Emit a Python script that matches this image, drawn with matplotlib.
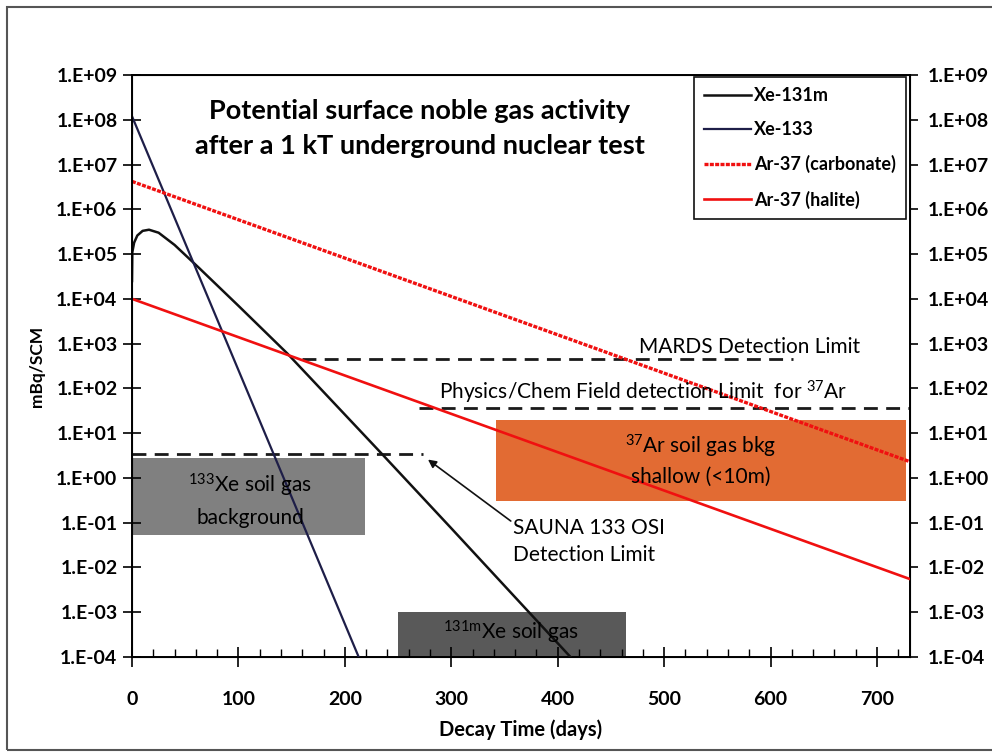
import matplotlib
matplotlib.use("Agg")
from matplotlib import pyplot as plt
from matplotlib.patches import Rectangle
from matplotlib.ticker import MultipleLocator, FixedLocator

plt.rcParams['font.family'] = ['Lato', 'DejaVu Sans']
plt.rcParams['mathtext.fontset'] = 'custom'
plt.rcParams['mathtext.rm'] = 'Lato'
plt.rcParams['mathtext.it'] = 'Lato:italic'
plt.rcParams['mathtext.bf'] = 'Lato:bold'

# datos
xe131m_dias = [0, 0.3, 2, 5, 10, 16, 25, 40, 63, 100, 146, 235, 300, 373, 412]
xe131m_act = [2.5e4, 1.1e5, 1.8e5, 2.6e5, 3.3e5, 3.5e5, 3.0e5, 1.6e5, 4.9e4, 7.0e3, 6.0e2, 3.4, 7.5e-2, 1.0e-3, 1.0e-4]
xe133_dias = [0, 0, 213]
xe133_act = [5e7, 1.2e8, 1e-4]
ar37c_dias = [0, 731]
ar37c_act = [4.2e6, 2.3]
ar37h_dias = [0, 731]
ar37h_act = [1.0e4, 5.5e-3]

# limites de deteccion: (inicio, fin, nivel)
mards = (160, 621, 465)
physchem = (270, 731, 36)
sauna = (0, 273, 3.4)

# cajas de fondo: (x0, x1, y0, y1)
caja_xe133 = (0, 219, 0.054, 2.8)
caja_xe131m = (250, 464, 1e-4, 1e-3)
caja_ar37 = (342, 727, 0.3, 20)

ytick_vals = [10.0**k for k in range(-4, 10)]
ytick_txt = ['1.E-04', '1.E-03', '1.E-02', '1.E-01', '1.E+00', '1.E+01', '1.E+02',
             '1.E+03', '1.E+04', '1.E+05', '1.E+06', '1.E+07', '1.E+08', '1.E+09']

fig = plt.figure(figsize=(9.92, 7.52), dpi=100)
ax = fig.add_axes([132/992, 1-657/752, 778/992, 582/752])

negro = '#111111'
rojo = '#f01010'

for c, col in [(caja_xe133, '#808080'), (caja_xe131m, '#595959'), (caja_ar37, '#e26b33')]:
    ax.add_patch(Rectangle((c[0], c[2]), c[1]-c[0], c[3]-c[2], facecolor=col, edgecolor='none', zorder=1))

l1, = ax.plot(xe131m_dias, xe131m_act, color=negro, lw=1.8, label='Xe-131m', zorder=3)
l2, = ax.plot(xe133_dias, xe133_act, color='#1e1e48', lw=1.6, label='Xe-133', zorder=3)
l3, = ax.plot(ar37c_dias, ar37c_act, color=rojo, lw=2.4, dashes=(1.2, 0.4), label='Ar-37 (carbonate)', zorder=3)
l4, = ax.plot(ar37h_dias, ar37h_act, color=rojo, lw=1.9, label='Ar-37 (halite)', zorder=3)

for d in [mards, physchem, sauna]:
    ax.plot([d[0], d[1]], [d[2], d[2]], color='#1a1a1a', lw=2, dashes=(5, 3), zorder=2)

ax.set_yscale('log')
ax.set_xlim(0, 731)
ax.set_ylim(1e-4, 1e9)
ax.xaxis.set_major_locator(MultipleLocator(100))
ax.xaxis.set_minor_locator(MultipleLocator(20))
ax.yaxis.set_major_locator(FixedLocator(ytick_vals))
ax.yaxis.set_minor_locator(FixedLocator([]))
ax.set_yticklabels(ytick_txt)
ax.tick_params(axis='y', which='major', direction='inout', length=13, width=1.2, labelsize=14, pad=4)
ax.tick_params(axis='x', which='major', direction='inout', length=15, width=1.2, labelsize=14, pad=17)
ax.tick_params(axis='x', which='minor', direction='in', length=6, width=1)
for t in ax.get_xticklabels() + ax.get_yticklabels():
    t.set_fontweight('bold')
for s in ax.spines.values():
    s.set_linewidth(1.4)

ax2 = ax.twinx()
ax2.set_yscale('log')
ax2.set_ylim(1e-4, 1e9)
ax2.yaxis.set_major_locator(FixedLocator(ytick_vals))
ax2.yaxis.set_minor_locator(FixedLocator([]))
ax2.set_yticklabels(ytick_txt)
ax2.tick_params(axis='y', which='major', direction='out', length=6, width=1.2, labelsize=14, pad=7)
for t in ax2.get_yticklabels():
    t.set_fontweight('bold')

ax.set_xlabel('Decay Time (days)', fontsize=14.5, fontweight='bold', labelpad=8)
ax.set_ylabel('mBq/SCM', fontsize=12.5, fontweight='bold', labelpad=8)

fig.text(0.423, 0.8285, 'Potential surface noble gas activity\nafter a 1 kT underground nuclear test',
         ha='center', va='center', fontsize=19.5, fontweight='bold', linespacing=1.55)

fs = 15
ax.text(476, 820, 'MARDS Detection Limit', fontsize=fs, va='center', ha='left', zorder=4)
ax.text(288, 81, r'Physics/Chem Field detection Limit  for $^{\mathrm{37}}$Ar', fontsize=fs, va='center', ha='left', zorder=4)
ax.text(111, 0.32, '$^{\\mathrm{133}}$Xe soil gas\nbackground', fontsize=fs, ha='center', va='center', linespacing=1.6, zorder=4)
ax.text(534, 2.5, '$^{\\mathrm{37}}$Ar soil gas bkg\nshallow (<10m)', fontsize=fs, ha='center', va='center', linespacing=1.45, zorder=4)
ax.text(356, 3.6e-4, '$^{\\mathrm{131m}}$Xe soil gas', fontsize=fs, ha='center', va='center', zorder=4)
ax.text(358, 0.038, 'SAUNA 133 OSI\nDetection Limit', fontsize=fs, ha='left', va='center', linespacing=1.45, zorder=4)
ax.annotate('', xy=(276, 2.8), xytext=(358, 0.1),
            arrowprops=dict(arrowstyle='-|>', color=negro, lw=1.2, mutation_scale=12), zorder=4)

leg = ax.legend(handles=[l1, l2, l3, l4], loc='upper right', bbox_to_anchor=(906/992, 1-77/752),
                bbox_transform=fig.transFigure, fancybox=False, edgecolor=negro, framealpha=1,
                prop={'weight': 'bold', 'size': 13}, handlelength=2.6, handletextpad=0.2,
                labelspacing=0.95, borderpad=0.55, borderaxespad=0)
leg.get_frame().set_linewidth(1.2)

# marco exterior de la imagen
fig.patches.append(Rectangle((7/992, 2/752), 1.0, 743/752, transform=fig.transFigure,
                             fill=False, edgecolor='#555555', lw=1.5))

fig.savefig('out.png', dpi=100)
